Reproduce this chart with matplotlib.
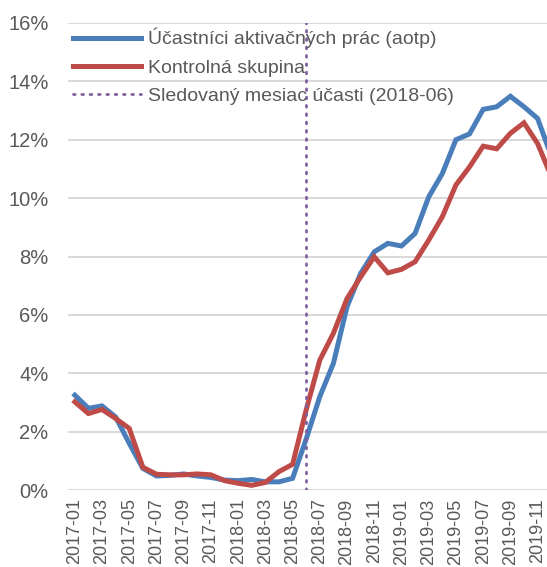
import numpy as np
import matplotlib.pyplot as plt
from matplotlib.ticker import FuncFormatter

# monthly series 2017-01 .. 2019-12
months = [f"{y}-{m:02d}" for y in (2017, 2018, 2019) for m in range(1, 13)]

aotp = [3.25, 2.80, 2.88, 2.50, 1.60, 0.74, 0.48, 0.50, 0.55, 0.48, 0.43, 0.34,
        0.32, 0.36, 0.28, 0.28, 0.40, 1.75, 3.20, 4.34, 6.28, 7.42, 8.16, 8.45,
        8.36, 8.79, 10.04, 10.84, 12.00, 12.20, 13.04, 13.13, 13.49, 13.13, 12.73, 11.45]
control = [3.02, 2.62, 2.76, 2.45, 2.11, 0.78, 0.54, 0.52, 0.52, 0.55, 0.52, 0.32,
           0.23, 0.16, 0.26, 0.63, 0.88, 2.75, 4.45, 5.37, 6.56, 7.30, 7.99, 7.44,
           7.56, 7.82, 8.56, 9.36, 10.45, 11.07, 11.78, 11.69, 12.22, 12.58, 11.87, 10.75]

participation_month = "2018-06"

label_aotp = "Účastníci aktivačných prác (aotp)"
label_ctrl = "Kontrolná skupina"
label_month = "Sledovaný mesiac účasti (2018-06)"

plt.rcParams['font.family'] = ['Liberation Sans', 'DejaVu Sans']
txt = '#595959'

fig = plt.figure(figsize=(5.47, 5.67), dpi=100)
# plot area runs slightly past the right edge, as in the cropped original
ax = fig.add_axes([68 / 547, 77 / 567, 490 / 547, 467 / 567])

x = np.arange(len(months))
ax.plot(x, aotp, color='#4A7EBB', lw=3.6, solid_joinstyle='miter', label=label_aotp, zorder=3)
ax.plot(x, control, color='#BE4B48', lw=3.6, solid_joinstyle='miter', label=label_ctrl, zorder=4)
ax.axvline(months.index(participation_month), color='#7F5FA0', lw=2, ls=(0, (0.6, 2.4)),
           dash_capstyle='round', label=label_month, zorder=5)

ax.set_xlim(-0.5, len(months) - 0.5)
ax.set_ylim(0, 16)
ax.set_yticks(np.arange(0, 17, 2))
ax.yaxis.set_major_formatter(FuncFormatter(lambda v, p: f"{v:.0f}%"))
ax.set_xticks(x[::2])
ax.set_xticklabels(months[::2], rotation=90)

ax.grid(axis='y', color='#D9D9D9', lw=1.4)
ax.set_axisbelow(True)
for s in ax.spines.values():
    s.set_visible(False)
ax.tick_params(axis='both', length=0, colors=txt)
ax.tick_params(axis='y', pad=14, labelsize=14.5)
ax.tick_params(axis='x', pad=6, labelsize=13)

leg = ax.legend(loc='upper left', bbox_to_anchor=(0.0, 1.0), frameon=False, fontsize=14,
                handlelength=3.5, handletextpad=0.35, labelspacing=0.55, borderpad=0.05,
                borderaxespad=0.2)
for t in leg.get_texts():
    t.set_color(txt)

fig.savefig('out.png', dpi=100)
